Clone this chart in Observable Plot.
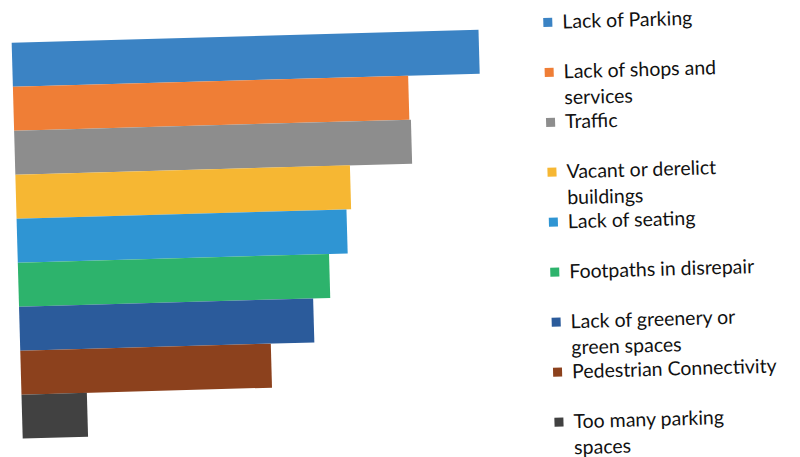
<!DOCTYPE html>
<html>
<head>
<meta charset="utf-8">
<script src="https://cdn.jsdelivr.net/npm/d3@7"></script>
<script src="https://cdn.jsdelivr.net/npm/@observablehq/plot@0.6"></script>
<style>
  html, body { margin: 0; padding: 0; background: #fff; overflow: hidden; }
  #page {
    position: relative; width: 800px; height: 457px;
    transform: rotate(-1.6deg); transform-origin: 400px 228.5px;
  }
  #chart { position: absolute; left: 0; top: 0; }
  #legend {
    position: absolute; left: 549px; top: 12px;
    font-family: Lato, "Open Sans", sans-serif; font-size: 19.5px; color: #111;
  }
  .item { position: relative; height: 50px; }
  .swatch { position: absolute; left: 0; top: 10px; width: 9px; height: 9px; }
  .label { position: absolute; left: 19px; top: 1px; line-height: 25.5px; white-space: nowrap; }
</style>
</head>
<body>
<div id="page">
  <div id="chart"></div>
  <div id="legend"></div>
</div>
<script>
// Problems reported, in legend order (top bar first)
const categories = [
  "Lack of Parking",
  "Lack of shops and services",
  "Traffic",
  "Vacant or derelict buildings",
  "Lack of seating",
  "Footpaths in disrepair",
  "Lack of greenery or green spaces",
  "Pedestrian Connectivity",
  "Too many parking spaces"
];
// Legend text split across lines
const legendLines = [
  ["Lack of Parking"],
  ["Lack of shops and", "services"],
  ["Traffic"],
  ["Vacant or derelict", "buildings"],
  ["Lack of seating"],
  ["Footpaths in disrepair"],
  ["Lack of greenery or", "green spaces"],
  ["Pedestrian Connectivity"],
  ["Too many parking", "spaces"]
];
const values = [30, 25.4, 25.5, 21.5, 21.2, 20.0, 18.9, 16.1, 4.2];
const palette = [
  "#3b83c4", "#ef7e36", "#8d8d8d", "#f6b733", "#2f95d3",
  "#2db36c", "#2b5b9b", "#8c411d", "#414141"
];

const data = categories.map((c, i) => ({category: c, value: values[i]}));

const chart = Plot.plot({
  width: 800,
  height: 457,
  marginLeft: 17,
  marginRight: 316,
  marginTop: 28,
  marginBottom: 25,
  x: {domain: [0, 30], axis: null},
  y: {domain: categories, padding: 0, axis: null},
  color: {domain: categories, range: palette},
  marks: [
    Plot.barX(data, {x: "value", y: "category", fill: "category"})
  ]
});
document.getElementById("chart").appendChild(chart);

const color = chart.scale("color");
const legend = d3.select("#legend");
const items = legend.selectAll(".item").data(categories).join("div").attr("class", "item");
items.append("div").attr("class", "swatch").style("background", d => color.apply(d));
items.append("div").attr("class", "label")
  .html((d, i) => legendLines[i].join("<br>"));
</script>
</body>
</html>
